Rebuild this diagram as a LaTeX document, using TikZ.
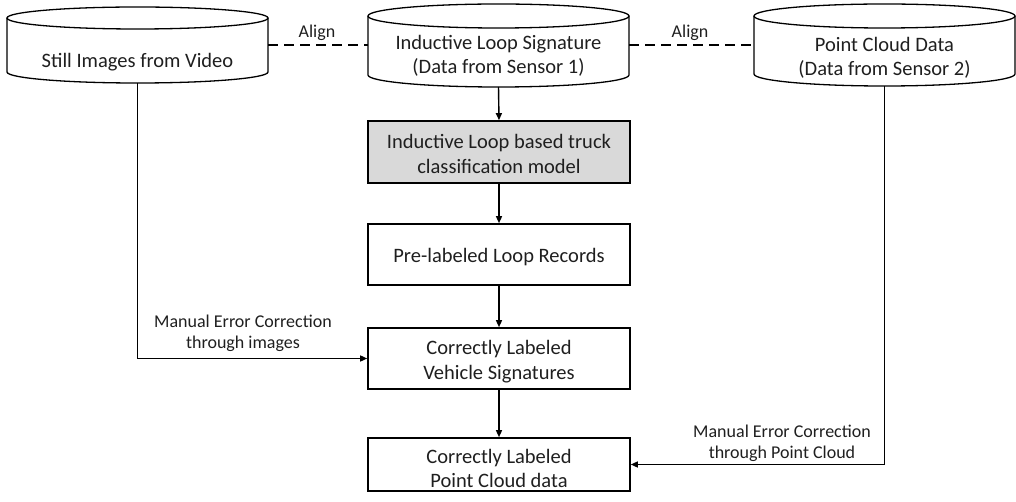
\documentclass[tikz,border=0pt]{standalone}
\usepackage{fontspec}
\setmainfont{Carlito}
\usetikzlibrary{arrows.meta}

\newcommand\bodysize{\fontsize{20.5}{24.5}\selectfont}
\newcommand\labelsize{\fontsize{18}{21}\selectfont}

% cylinder outline: centre x, top-ellipse centre y, bottom-ellipse centre y, y radius
\newcommand\drawdrum[4]{%
  \draw[drumline] (#1-130.5,#2) -- (#1-130.5,#3)
    arc[start angle=180, end angle=360, x radius=130.5pt, y radius=#4pt]
    -- (#1+130.5,#2);
  \draw[drumline] (#1,#2) ellipse [x radius=130.5pt, y radius=#4pt];
}

\begin{document}
\begin{tikzpicture}[x=1pt, y=-1pt,
  drumline/.style={line width=1.3pt},
  anchorbox/.style={minimum width=261pt, inner sep=0pt, outer sep=0pt},
  drumtext/.style={align=center, font=\bodysize, inner sep=0pt, text=black!88},
  procbox/.style={draw, line width=1.6pt, minimum width=262pt, inner sep=0pt},
  boxtext/.style={align=center, font=\bodysize, inner sep=0pt, text=black!88},
  shaded/.style={fill={rgb,255:red,217;green,217;blue,217}},
  flow/.style={line width=1.4pt, -{Triangle[length=7pt,width=6pt]}},
  alignline/.style={line width=1.4pt, dash pattern=on 10pt off 6pt},
  note/.style={align=center, font=\labelsize, inner sep=0pt, text=black!88}
]
\useasboundingbox (0,0) rectangle (1016,502);

% data sources (cylinders)
\drawdrum{137.5}{18}{72}{11}
\drawdrum{498.5}{16}{75}{12}
\drawdrum{884.5}{16}{74}{12}

\node[anchorbox, minimum height=76pt] (c1) at (137.5,45) {};
\node[anchorbox, minimum height=83pt] (c2) at (498.5,45.5) {};
\node[anchorbox, minimum height=82pt] (c3) at (884.5,45) {};

\node[drumtext] (t1) at (137.5,62) {Still Images from Video};
\node[drumtext] (t2) at (498.5,56) {Inductive Loop Signature\\(Data from Sensor 1)};
\node[drumtext] (t3) at (884.5,58) {Point Cloud Data\\(Data from Sensor 2)};

% processing chain
\node[procbox, shaded, minimum height=62pt] (m1) at (499,152) {};
\node[procbox, minimum height=61pt] (m2) at (499,254.5) {};
\node[procbox, minimum height=61pt] (m3) at (499,358.5) {};
\node[procbox, minimum height=53pt] (m4) at (499,464.5) {};

\node[boxtext] (m1t) at ([yshift=-2pt]m1.center) {Inductive Loop based truck\\classification model};
\node[boxtext] (m2t) at ([yshift=-3pt]m2.center) {Pre-labeled Loop Records};
\node[boxtext] (m3t) at ([yshift=-3pt]m3.center) {Correctly Labeled\\Vehicle Signatures};
\node[boxtext] (m4t) at ([yshift=-4pt]m4.center) {Correctly Labeled\\Point Cloud data};

% alignment between sources
\draw[alignline] (c1.east) -- (c1.east -| c2.west);
\draw[alignline] (c2.east |- c1.east) -- (c1.east -| c3.west);
\node[note] (a1) at (317,33) {Align};
\node[note] (a2) at (690,33) {Align};

% main flow
\draw[flow] (c2.south) -- (m1.north);
\draw[flow] (m1.south) -- (m2.north);
\draw[flow] (m2.south) -- (m3.north);
\draw[flow] (m3.south) -- (m4.north);

% manual corrections
\draw[flow] (c1.south) |- (m3.west);
\draw[flow] (c3.south) |- (m4.east);
\node[note] (n1) at (243,333) {Manual Error Correction\\through images};
\node[note] (n2) at (782,443) {Manual Error Correction\\through Point Cloud};
\end{tikzpicture}
\end{document}
